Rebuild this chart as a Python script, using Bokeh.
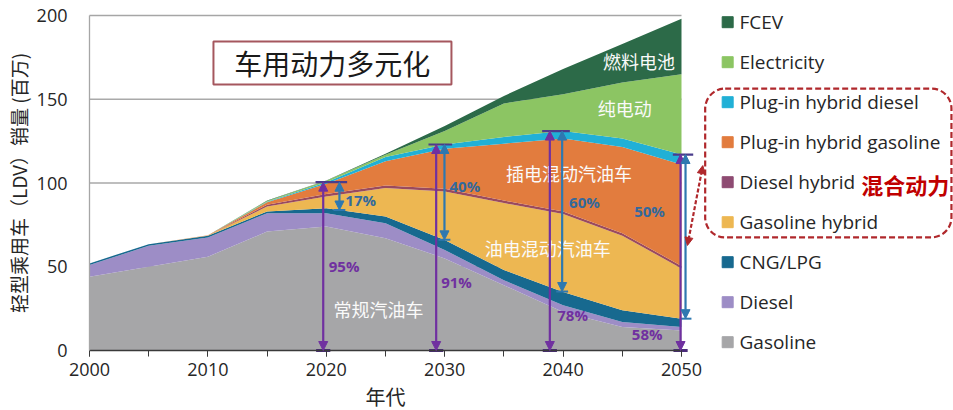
import numpy as np
from bokeh.plotting import figure
from bokeh.models import (Range1d, FixedTicker, LinearAxis, Label, Arrow, NormalHead,
                          BoxAnnotation, ColumnDataSource)
from bokeh.core.properties import value
from bokeh.embed import file_html
from bokeh.resources import INLINE

# ---------------- data (million LDV sales) ----------------
years = [2000, 2005, 2010, 2015, 2020, 2025, 2030, 2035, 2040, 2045, 2050]
gasoline        = [44, 50, 56, 71, 74, 67, 55, 39, 23, 14, 12]
diesel          = [7, 12.5, 11.5, 11, 8, 9, 5, 3, 4, 3, 2]
cng_lpg         = [1, 1, 1, 1, 3, 4, 6, 6, 8, 7, 5]
gasoline_hybrid = [0, 0, 0.1, 3, 7, 17, 29, 40, 46.5, 44.5, 30]
diesel_hybrid   = [0, 0, 0.1, 1, 1.5, 1.5, 1.5, 1.5, 1.5, 1.5, 1.5]
phev_gasoline   = [0, 0, 0.1, 1.5, 6, 14.5, 24, 34, 43.5, 51.5, 60.5]
phev_diesel     = [0, 0, 0, 0.3, 1, 2.5, 2.5, 4, 4.5, 5, 6]
electricity     = [0, 0, 0, 0.5, 0.8, 1.3, 8, 20, 22, 33.5, 48]
fcev            = [0, 0, 0, 0.2, 0.2, 0.7, 3, 4.5, 15, 23, 33]

series_names = ["Gasoline", "Diesel", "CNG/LPG", "Gasoline hybrid", "Diesel hybrid",
                "Plug-in hybrid gasoline", "Plug-in hybrid diesel", "Electricity", "FCEV"]
series_values = [gasoline, diesel, cng_lpg, gasoline_hybrid, diesel_hybrid,
                 phev_gasoline, phev_diesel, electricity, fcev]
series_colors = ["#A6A6A8", "#9D8DC6", "#17698F", "#EDB752", "#9A4A5E",
                 "#E27C3E", "#21B0D6", "#8CC563", "#2C6A48"]
legend_colors = ["#A6A6A8", "#9D8DC6", "#17698F", "#EDB752", "#8E4B72",
                 "#E27C3E", "#21B0D6", "#8CC563", "#2C6A48"]

x_tick_labels = [2000, 2010, 2020, 2030, 2040, 2050]
y_ticks = [0, 50, 100, 150, 200]

area_labels = ["燃料电池", "纯电动", "插电混动汽油车", "油电混动汽油车", "常规汽油车"]
share_total_labels = ["95%", "91%", "78%", "58%"]     # ICE-containing share of total
share_hybrid_labels = ["17%", "40%", "60%", "50%"]    # hybrid share
marker_years = [2020, 2030, 2040, 2050]

# ---------------- derived ----------------
keys = ["s%d" % i for i in range(len(series_names))]
data = {"year": years}
for k, v in zip(keys, series_values):
    data[k] = v
src = ColumnDataSource(data)
cum = np.cumsum(np.array(series_values, dtype=float), axis=0)
cng_top = cum[2]
ice_top = cum[6]

# ---------------- figure (frame = whole canvas; axes pinned in data space) ----------------
W, H = 953, 410
LEFT, TOP, BOTTOM = 89, 15, 350
PX_PER_YEAR = 11.84
PX_PER_UNIT = 1.675
x_start = years[0] - LEFT / PX_PER_YEAR
x_end = years[0] + (W - LEFT) / PX_PER_YEAR
y_end = y_ticks[-1] + TOP / PX_PER_UNIT
y_start = y_ticks[0] - (H - BOTTOM) / PX_PER_UNIT

p = figure(width=W, height=H, x_range=Range1d(x_start, x_end),
           y_range=Range1d(y_start, y_end),
           output_backend="svg", toolbar_location=None,
           min_border_left=0, min_border_right=0, min_border_top=0, min_border_bottom=0,
           outline_line_color=None, background_fill_color="white")
p.xgrid.visible = False
p.ygrid.visible = False

LATIN = "Open Sans"
CJK = "Noto Sans CJK SC"

# gridlines only over the data span
gy = y_ticks[1:-1]
p.segment(x0=[years[0]] * len(gy), x1=[years[-1]] * len(gy), y0=gy, y1=gy,
          line_color="#A9A9A9", line_width=1.3)

p.varea_stack(stackers=keys, x="year", color=series_colors, source=src)

# axes
xa = p.xaxis[0]
xa.fixed_location = y_ticks[0]
xa.ticker = FixedTicker(ticks=x_tick_labels, minor_ticks=years)
xa.bounds = (years[0], years[-1])
xa.axis_line_color = "#3A3A3A"
xa.axis_line_width = 1.6
xa.major_tick_line_color = "#3A3A3A"
xa.minor_tick_line_color = "#3A3A3A"
xa.major_tick_in = 0
xa.major_tick_out = 6
xa.minor_tick_in = 0
xa.minor_tick_out = 6
xa.major_label_text_font = LATIN
xa.major_label_text_font_size = "18px"
xa.major_label_text_color = "#262626"
xa.major_label_standoff = 6

ya = p.yaxis[0]
ya.fixed_location = years[0]
ya.ticker = FixedTicker(ticks=y_ticks)
ya.bounds = (y_ticks[0], y_ticks[-1])
ya.axis_line_color = "#A6A6A6"
ya.axis_line_width = 1.3
ya.major_tick_out = 0
ya.major_tick_in = 0
ya.minor_tick_out = 0
ya.minor_tick_in = 0
ya.major_label_text_font = LATIN
ya.major_label_text_font_size = "18px"
ya.major_label_text_color = "#262626"
ya.major_label_standoff = 22
ya.axis_label = "轻型乘用车（LDV）销量 (百万)"
ya.axis_label_text_font = CJK
ya.axis_label_text_font_size = "19px"
ya.axis_label_text_font_style = "normal"
ya.axis_label_text_color = "#262626"
ya.axis_label_standoff = 2

top_axis = LinearAxis(ticker=FixedTicker(ticks=[]), bounds=(years[0], years[-1]),
                      fixed_location=y_ticks[-1],
                      axis_line_color="#A6A6A6", axis_line_width=1.5,
                      major_tick_out=0, minor_tick_out=0, major_label_text_font_size="0px")
p.add_layout(top_axis, "above")

p.add_layout(Label(x=2025, y=-27.3, text="年代", text_font=CJK, text_font_size="20px",
                   text_color="#262626", text_align="center", text_baseline="middle"))

# title box
p.add_layout(BoxAnnotation(left=2010.47, right=2030.57, top=184.5, bottom=158.8,
                           fill_color="white", fill_alpha=1.0,
                           line_color="#A5575E", line_alpha=1.0, line_width=2))
p.add_layout(Label(x=2020.5, y=171.4, text="车用动力多元化", text_font=CJK,
                   text_font_size="28px", text_color="#1A1A1A",
                   text_align="center", text_baseline="middle"))

# white labels in areas
area_pos = [(2046.4, 173.1), (2045.2, 144.5), (2040.5, 105.7), (2038.7, 60.9), (2024.4, 25.0)]
for t, (ax_, ay_) in zip(area_labels, area_pos):
    p.add_layout(Label(x=ax_, y=ay_, text=t, text_font=CJK, text_font_size="18px",
                       text_color="#FAFAFA", text_align="center", text_baseline="middle"))

# arrows
PURPLE = "#7030A0"
BLUE = "#2E78B0"
CAP = "#4A3C8C"
purple_x = [2019.74, 2029.28, 2038.88, 2049.92]
blue_x = [2021.11, 2029.98, 2039.92, 2050.34]
cap_y = [float(np.interp(y, years, ice_top)) for y in marker_years]
blue_bottom = [float(np.interp(x, years, cng_top)) for x in blue_x]
zeros = [0.0] * len(purple_x)

psrc = ColumnDataSource(dict(x0=purple_x, y0=zeros, x1=purple_x, y1=cap_y))
p.add_layout(Arrow(source=psrc, x_start="x0", y_start="y0", x_end="x1", y_end="y1",
                   line_color=PURPLE, line_width=2.2,
                   start=NormalHead(size=9, fill_color=PURPLE, line_color=PURPLE),
                   end=NormalHead(size=9, fill_color=PURPLE, line_color=PURPLE)))
bsrc = ColumnDataSource(dict(x0=blue_x, y0=blue_bottom, x1=blue_x, y1=cap_y))
p.add_layout(Arrow(source=bsrc, x_start="x0", y_start="y0", x_end="x1", y_end="y1",
                   line_color=BLUE, line_width=2.2,
                   start=NormalHead(size=9, fill_color=BLUE, line_color=BLUE),
                   end=NormalHead(size=9, fill_color=BLUE, line_color=BLUE)))

pad = 0.65
cap_l = [min(a, b) - pad for a, b in zip(purple_x, blue_x)]
cap_r = [max(a, b) + pad for a, b in zip(purple_x, blue_x)]
p.segment(x0=cap_l, x1=cap_r, y0=cap_y, y1=cap_y, line_color=CAP, line_width=2.2)
p.segment(x0=[x - 0.5 for x in blue_x], x1=[x + 0.5 for x in blue_x],
          y0=blue_bottom, y1=blue_bottom, line_color=BLUE, line_width=2)
p.segment(x0=[x - 0.6 for x in purple_x], x1=[x + 0.6 for x in purple_x],
          y0=zeros, y1=zeros, line_color="#4A2C7A", line_width=3)

# percent labels
pct_total_pos = [(2021.5, 50.3), (2031.0, 40.8), (2040.8, 20.9), (2047.1, 10.1)]
pct_hybrid_pos = [(2022.9, 90.0), (2031.7, 98.5), (2041.8, 88.5), (2047.3, 83.2)]
for t, (lx, ly) in zip(share_total_labels, pct_total_pos):
    p.add_layout(Label(x=lx, y=ly, text=t, text_font=LATIN, text_font_size="15px",
                       text_font_style="bold", text_color=PURPLE,
                       text_align="center", text_baseline="middle"))
for t, (lx, ly) in zip(share_hybrid_labels, pct_hybrid_pos):
    p.add_layout(Label(x=lx, y=ly, text=t, text_font=LATIN, text_font_size="15px",
                       text_font_style="bold", text_color="#33699C",
                       text_align="center", text_baseline="middle"))

# legend (manual)
n = len(series_names)
leg_top = 196.0
leg_step = 23.88
leg_y = [leg_top - i * leg_step for i in range(n)]
leg_names = series_names[::-1]
leg_cols = legend_colors[::-1]
p.scatter(x=[2053.9] * n, y=leg_y, marker="square", size=11,
          fill_color=leg_cols, line_color=leg_cols)
p.text(x=[2054.9] * n, y=leg_y, text=leg_names, text_font=value(LATIN),
       text_font_size="19px", text_color="#262626",
       text_align="left", text_baseline="middle")

RED = "#B0282C"
p.add_layout(BoxAnnotation(left=2052.0, right=2072.8, top=156.4, bottom=67.5,
                           fill_alpha=0, line_color=RED, line_alpha=1.0, line_width=2.2,
                           line_dash="6 3", border_radius=20))
p.add_layout(Label(x=2068.9, y=99.7, text="混合动力", text_font=CJK, text_font_size="22px",
                   text_font_style="bold", text_color="#C00000",
                   text_align="center", text_baseline="middle"))
p.add_layout(Arrow(x_start=2050.5, y_start=62.7, x_end=2051.8, y_end=110.4,
                   line_color=RED, line_width=2.2, line_dash="4 2",
                   start=NormalHead(size=8, fill_color=RED, line_color=RED),
                   end=NormalHead(size=8, fill_color=RED, line_color=RED)))

open("out.html", "w").write(file_html(p, INLINE))
